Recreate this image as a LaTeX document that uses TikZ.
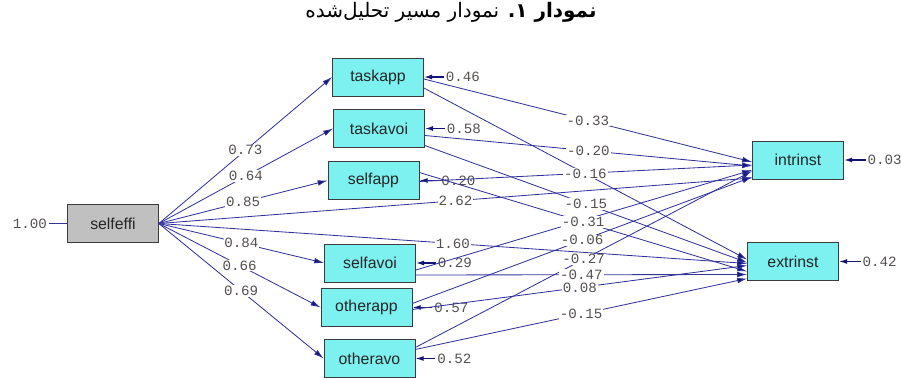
\documentclass[tikz,border=0pt]{standalone}
\usepackage{fontspec}
\setmainfont{Liberation Sans}
\setmonofont{Liberation Mono}
\newfontfamily\arabicfont[Script=Arabic]{DejaVu Sans}
\TeXXeTstate=1
\usetikzlibrary{positioning,arrows.meta}

\definecolor{boxcyan}{RGB}{125,240,240}
\definecolor{boxgray}{RGB}{192,192,192}
\definecolor{edgegray}{RGB}{60,60,60}
\definecolor{pathblue}{RGB}{50,50,155}
\definecolor{tipblue}{RGB}{20,20,120}
\definecolor{coefgray}{RGB}{85,80,80}

\tikzset{
  varbox/.style={draw=edgegray, fill=boxcyan, minimum width=54.6pt, minimum height=22.8pt,
    inner sep=0pt, font=\fontsize{9.5}{10}\selectfont, text=black!85},
  effect/.style={pathblue, line width=0.5pt, -{Latex[length=6pt,width=3.4pt,fill=tipblue]}},
  errarrow/.style={tipblue, line width=0.8pt, -{Latex[length=5pt,width=3pt]}},
  coef/.style={fill=white, inner sep=0.5pt, text=coefgray, font=\ttfamily\fontsize{8.5}{9}\selectfont},
  errvar/.style={inner sep=1pt, text=coefgray, font=\ttfamily\fontsize{8.5}{9}\selectfont}
}

\begin{document}
\begin{tikzpicture}[x=0.6pt,y=-0.6pt]
    \useasboundingbox (0,0) rectangle (901,378);

    % Title
    \node[font=\arabicfont\fontsize{12}{14}\selectfont] (title) at (451,12)
        {\beginR{\bfseries نمودار ۱.} نمودار مسیر تحلیل^^^^200cشده\endR};

    % Variables
    \node[varbox, fill=boxgray] (selfeffi) at (113,223.5) {selfeffi};
    \node[varbox] (taskapp) at (378,77) {taskapp};
    \node[varbox] (taskavoi) at (379,128.5) {taskavoi};
    \node[varbox] (selfapp) at (373.5,180.5) {selfapp};
    \node[varbox] (selfavoi) at (370,263) {selfavoi};
    \node[varbox] (otherapp) at (366.5,307.5) {otherapp};
    \node[varbox] (otheravo) at (369.5,358.5) {otheravo};
    \node[varbox] (intrinst) at (798,160) {intrinst};
    \node[varbox] (extrinst) at (793,261.5) {extrinst};

    % Error variances
    \node[errvar, left=11pt of selfeffi] (eselfeffi) {1.00};
    \node[errvar, right=12pt of taskapp] (etaskapp) {0.46};
    \node[errvar, right=12pt of taskavoi] (etaskavoi) {0.58};
    \node[errvar, right=12pt of selfapp] (eselfapp) {0.20};
    \node[errvar, right=12pt of selfavoi] (eselfavoi) {0.29};
    \node[errvar, right=12pt of otherapp] (eotherapp) {0.57};
    \node[errvar, right=12pt of otheravo] (eotheravo) {0.52};
    \node[errvar, right=13pt of intrinst] (eintrinst) {0.03};
    \node[errvar, right=13pt of extrinst] (eextrinst) {0.42};

    \draw[pathblue, line width=0.5pt] (eselfeffi) -- (selfeffi);
    \draw[errarrow] (etaskapp) -- (taskapp);
    \draw[errarrow] (etaskavoi) -- (taskavoi);
    \draw[errarrow] (eselfapp) -- (selfapp);
    \draw[errarrow] (eselfavoi) -- (selfavoi);
    \draw[errarrow] (eotherapp) -- (otherapp);
    \draw[errarrow] (eotheravo) -- (otheravo);
    \draw[errarrow] (eintrinst) -- (intrinst);
    \draw[errarrow] (eextrinst) -- (extrinst);

    % Paths from selfeffi
    \draw[effect] (selfeffi.east) -- (taskapp.west);
    \draw[effect] (selfeffi.east) -- (taskavoi.west);
    \draw[effect] (selfeffi.east) -- (selfapp.west);
    \draw[effect] (selfeffi.east) -- (selfavoi.west);
    \draw[effect] (selfeffi.east) -- (otherapp.west);
    \draw[effect] (selfeffi.east) -- (otheravo.west);
    \draw[effect] (selfeffi.east) -- ([yshift=-10.8pt]intrinst.west);
    \draw[effect] (selfeffi.east) -- ([yshift=-1.2pt]extrinst.west);

    % Paths to intrinst and extrinst
    \draw[effect] ([yshift=-1.2pt]taskapp.east) -- ([yshift=-1.2pt]intrinst.west);
    \draw[effect] ([yshift=-6.6pt]taskapp.east) -- ([yshift=1.2pt]extrinst.west);
    \draw[effect] ([yshift=-4.2pt]taskavoi.east) -- ([yshift=-3.6pt]intrinst.west);
    \draw[effect] ([yshift=-10.2pt]taskavoi.east) -- ([yshift=-0.6pt]extrinst.west);
    \draw[effect] ([yshift=-0.6pt]selfapp.east) -- ([yshift=-3pt]intrinst.west);
    \draw[effect] ([yshift=4.8pt]selfapp.east) -- ([yshift=-6pt]extrinst.west);
    \draw[effect] ([yshift=-4.2pt]selfavoi.east) -- ([yshift=-6pt]intrinst.west);
    \draw[effect] ([yshift=-7.2pt]selfavoi.east) -- ([yshift=-7.8pt]extrinst.west);
    \draw[effect] ([yshift=2.4pt]otherapp.east) -- ([yshift=-10.2pt]intrinst.west);
    \draw[effect] ([yshift=-1.2pt]otherapp.east) -- ([yshift=-2.4pt]extrinst.west);
    \draw[effect] ([yshift=6.6pt]otheravo.east) -- ([yshift=-6.6pt]intrinst.west);
    \draw[effect] ([yshift=5.4pt]otheravo.east) -- ([yshift=-10.2pt]extrinst.west);

    % Coefficients
    \path (selfeffi.east) -- (taskapp.west) node[coef,midway] (c1) {0.73};
    \path (selfeffi.east) -- (taskavoi.west) node[coef,midway] (c2) {0.64};
    \path (selfeffi.east) -- (selfapp.west) node[coef,midway] (c3) {0.85};
    \path (selfeffi.east) -- (selfavoi.west) node[coef,midway] (c4) {0.84};
    \path (selfeffi.east) -- (otherapp.west) node[coef,midway] (c5) {0.66};
    \path (selfeffi.east) -- (otheravo.west) node[coef,midway] (c6) {0.69};
    \path (selfeffi.east) -- ([yshift=-10.8pt]intrinst.west) node[coef,midway] (c7) {2.62};
    \path (selfeffi.east) -- ([yshift=-1.2pt]extrinst.west) node[coef,midway] (c8) {1.60};

    \path ([yshift=-1.2pt]taskapp.east) -- ([yshift=-1.2pt]intrinst.west) node[coef,midway] (c9) {-0.33};
    \path ([yshift=-6.6pt]taskapp.east) -- ([yshift=1.2pt]extrinst.west) node[coef,midway] (c10) {-0.16};
    \path ([yshift=-4.2pt]taskavoi.east) -- ([yshift=-3.6pt]intrinst.west) node[coef,midway] (c11) {-0.20};
    \path ([yshift=-10.2pt]taskavoi.east) -- ([yshift=-0.6pt]extrinst.west) node[coef,midway] (c12) {-0.15};
    \path ([yshift=4.8pt]selfapp.east) -- ([yshift=-6pt]extrinst.west) node[coef,midway] (c13) {-0.31};
    \path ([yshift=-7.2pt]selfavoi.east) -- ([yshift=-7.8pt]extrinst.west) node[coef,midway] (c14) {-0.47};
    \path ([yshift=2.4pt]otherapp.east) -- ([yshift=-10.2pt]intrinst.west) node[coef,midway] (c15) {-0.06};
    \path ([yshift=-1.2pt]otherapp.east) -- ([yshift=-2.4pt]extrinst.west) node[coef,midway] (c16) {0.08};
    \path ([yshift=6.6pt]otheravo.east) -- ([yshift=-6.6pt]intrinst.west) node[coef,midway] (c17) {-0.27};
    \path ([yshift=5.4pt]otheravo.east) -- ([yshift=-10.2pt]extrinst.west) node[coef,midway] (c18) {-0.15};
\end{tikzpicture}
\end{document}
